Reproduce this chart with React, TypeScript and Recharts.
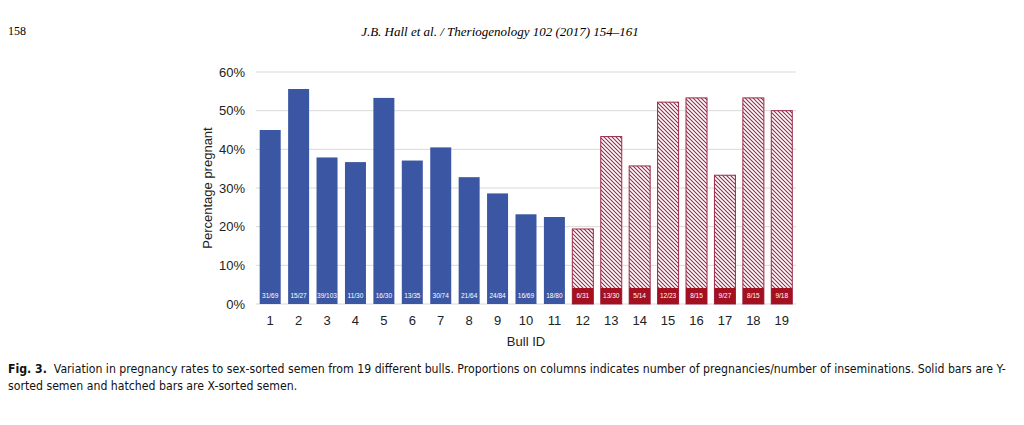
import { BarChart, Bar, XAxis, YAxis, CartesianGrid } from "recharts";

const bullIds = ["1", "2", "3", "4", "5", "6", "7", "8", "9", "10", "11", "12", "13", "14", "15", "16", "17", "18", "19"];
const pregnantPct = [45.0, 55.6, 37.9, 36.7, 53.3, 37.1, 40.5, 32.8, 28.6, 23.2, 22.5, 19.4, 43.3, 35.7, 52.2, 53.3, 33.3, 53.3, 50.0];
const proportions = ["31/69", "15/27", "39/103", "11/30", "16/30", "13/35", "30/74", "21/64", "24/84", "16/69", "18/80", "6/31", "13/30", "5/14", "12/23", "8/15", "9/27", "8/15", "9/18"];
const sortedAs = ["Y", "Y", "Y", "Y", "Y", "Y", "Y", "Y", "Y", "Y", "Y", "X", "X", "X", "X", "X", "X", "X", "X"];
const yTicks = [0, 10, 20, 30, 40, 50, 60];

const data = bullIds.map((id, i) => ({
  id,
  pct: pregnantPct[i],
  label: proportions[i],
  sort: sortedAs[i],
}));

const BLUE = "#3b57a4";
const RED = "#a3101f";
const HATCH = "#9a2a4c";

const FONT = "'Liberation Sans', Arial, sans-serif";

function BullBar(props: any) {
  const { x, y, width, height, payload } = props;
  const base = y + height;
  if (payload.sort === "Y") {
    return (
      <g>
        <rect x={x} y={y} width={width} height={height} fill={BLUE} />
        <text x={x + width / 2} y={base - 6} textAnchor="middle" fontSize={6.5} fill="#ffffff" fontFamily={FONT}>
          {payload.label}
        </text>
      </g>
    );
  }
  return (
    <g>
      <rect x={x} y={y} width={width} height={height} fill="url(#hatch)" stroke={HATCH} strokeWidth={1} />
      <rect x={x} y={base - 16} width={width} height={16} fill={RED} />
      <text x={x + width / 2} y={base - 6} textAnchor="middle" fontSize={6.5} fill="#ffffff" fontFamily={FONT}>
        {payload.label}
      </text>
    </g>
  );
}

export default function App() {
  return (
    <div style={{ position: "absolute", left: 0, top: 0, width: 1024, height: 425, background: "#fff", overflow: "hidden" }}>
      <div style={{ position: "absolute", left: 8, top: 24, fontSize: 12, fontFamily: "'Liberation Serif', serif" }}>158</div>
      <div style={{ position: "absolute", left: 0, width: 1000, top: 24, textAlign: "center", fontSize: 13, fontStyle: "italic", fontFamily: "'Liberation Serif', serif" }}>
        J.B. Hall et al. / Theriogenology 102 (2017) 154–161
      </div>

      <div style={{ position: "absolute", left: 190, top: 55 }}>
        <BarChart
          width={620}
          height={300}
          data={data}
          margin={{ top: 17, right: 14, bottom: 9, left: 10 }}
          barCategoryGap="13%"
        >
          <defs>
            <pattern id="hatch" patternUnits="userSpaceOnUse" width={4} height={4}>
              <rect width={4} height={4} fill="#ffffff" />
              <path d="M-1,-1 L5,5 M3,-1 L5,1 M-1,3 L1,5" stroke={HATCH} strokeWidth={1.1} />
            </pattern>
          </defs>
          <CartesianGrid vertical={false} stroke="#d9d9d9" />
          <XAxis
            dataKey="id"
            axisLine={false}
            tickLine={false}
            tickMargin={6}
            height={42}
            tick={{ fontSize: 13, fill: "#222", fontFamily: FONT }}
            label={{ value: "Bull ID", position: "insideBottom", offset: 0, fontSize: 13, fill: "#222", fontFamily: FONT }}
          />
          <YAxis
            domain={[0, 60]}
            ticks={yTicks}
            tickFormatter={(v) => `${v}%`}
            axisLine={false}
            tickLine={false}
            tickMargin={5}
            width={56}
            tick={{ fontSize: 13, fill: "#222", fontFamily: FONT }}
            label={{ value: "Percentage pregnant", angle: -90, position: "center", dx: -21, fontSize: 13, fill: "#222", fontFamily: FONT }}
          />
          <Bar dataKey="pct" shape={BullBar} isAnimationActive={false} />
        </BarChart>
      </div>

      <div style={{ position: "absolute", left: 8, top: 361, width: 1010, fontSize: 12.2, lineHeight: "17px", fontFamily: "'Liberation Sans Narrow', 'DejaVu Sans Condensed', sans-serif", color: "#111" }}>
        <div style={{ whiteSpace: "nowrap" }}>
          <b>Fig. 3.</b>&nbsp; Variation in pregnancy rates to sex-sorted semen from 19 different bulls. Proportions on columns indicates number of pregnancies/number of inseminations. Solid bars are Y-
        </div>
        <div style={{ whiteSpace: "nowrap" }}>sorted semen and hatched bars are X-sorted semen.</div>
      </div>
    </div>
  );
}
